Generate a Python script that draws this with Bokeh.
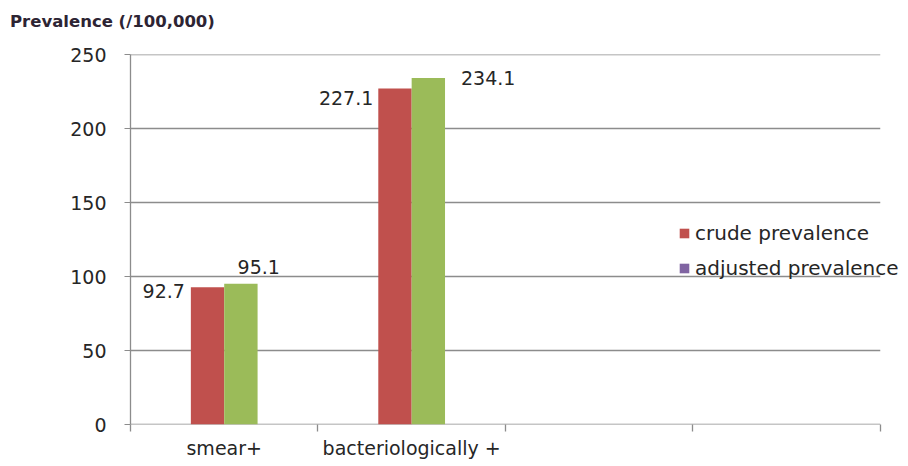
from bokeh.plotting import figure
from bokeh.layouts import column
from bokeh.models import Range1d, FixedTicker, Legend, LegendItem, ColumnDataSource, Div
from bokeh.core.properties import value
from bokeh.embed import file_html
from bokeh.resources import INLINE

# Prevalence per 100,000 by case definition
categories = ["smear+", "bacteriologically +"]
crude = [92.7, 227.1]
adjusted = [95.1, 234.1]
# four slots on the category axis, only the first two are filled
slot_labels = ["smear+", "bacteriologically +", "", ""]
y_ticks = [0, 50, 100, 150, 200, 250]

FONT = "DejaVu Sans"
RED = "#C0504D"
GREEN = "#9BBB59"
PURPLE = "#8064A2"
GRID = "#8c8c8c"
TEXT = "#262626"

bar_w = 0.178
n_slots = len(slot_labels)
# a little room past the last slot so the legend text is not cut off
x_end = n_slots + 0.14

title = Div(text="Prevalence (/100,000)", width=908, height=34, margin=(0, 0, 0, 0),
            styles={"font-family": FONT, "font-size": "16.5px", "font-weight": "bold",
                    "color": "#2d2433", "padding-left": "10px", "line-height": "44px",
                    "white-space": "nowrap"})

p = figure(width=908, height=432, output_backend="svg", toolbar_location=None,
           x_range=Range1d(0, x_end), y_range=Range1d(0, 250),
           min_border_left=130, min_border_right=2, min_border_top=20,
           min_border_bottom=42, margin=(0, 0, 0, 0))
p.outline_line_color = None
p.background_fill_color = "white"

# horizontal gridlines and the category baseline, spanning the four slots only
p.xgrid.visible = False
p.ygrid.visible = False
p.segment(x0=[0] * len(y_ticks), x1=[n_slots] * len(y_ticks), y0=y_ticks, y1=y_ticks,
          line_color=GRID, line_width=1.3)

centers = [i + 0.5 for i in range(len(categories))]
src = ColumnDataSource(dict(
    xc=[c - bar_w / 2 for c in centers],
    xa=[c + bar_w / 2 for c in centers],
    crude=crude, adjusted=adjusted,
))

p.vbar(x="xc", top="crude", width=bar_w, bottom=0, source=src,
       fill_color=RED, line_color=None)
p.vbar(x="xa", top="adjusted", width=bar_w, bottom=0, source=src,
       fill_color=GREEN, line_color=None)

# value labels, placed individually beside each bar
crude_dx = [-6, -5]
crude_dy = [4, 10]
adj_dx = [-20, 16]
adj_dy = [-17, 0]
for i in range(len(categories)):
    p.text(x=[centers[i] - bar_w], y=[crude[i]], text=[f"{crude[i]:.1f}"],
           x_offset=crude_dx[i], y_offset=crude_dy[i], text_align="right",
           text_baseline="middle", text_font=value(FONT), text_font_size="19px",
           text_color=TEXT)
    p.text(x=[centers[i] + bar_w], y=[adjusted[i]], text=[f"{adjusted[i]:.1f}"],
           x_offset=adj_dx[i], y_offset=adj_dy[i], text_align="left",
           text_baseline="middle", text_font=value(FONT), text_font_size="19px",
           text_color=TEXT)

# y axis
ya = p.yaxis[0]
ya.ticker = FixedTicker(ticks=y_ticks)
ya.axis_line_color = GRID
ya.axis_line_width = 1.3
ya.major_tick_line_color = GRID
ya.major_tick_out = 6
ya.major_tick_in = 0
ya.minor_tick_line_color = None
ya.major_label_standoff = 18
ya.major_label_text_font = FONT
ya.major_label_text_font_size = "19px"
ya.major_label_text_color = TEXT

# x axis: labels centred in slots, tick marks on slot boundaries
xa = p.xaxis[0]
xa.ticker = FixedTicker(ticks=[i + 0.5 for i in range(n_slots)],
                        minor_ticks=list(range(n_slots + 1)))
xa.major_label_overrides = {i + 0.5: s for i, s in enumerate(slot_labels)}
xa.axis_line_color = None
xa.major_tick_line_color = None
xa.major_tick_out = 0
xa.major_tick_in = 0
xa.minor_tick_line_color = GRID
xa.minor_tick_line_width = 1.3
xa.minor_tick_out = 7
xa.minor_tick_in = 0
xa.major_label_standoff = 5
xa.major_label_text_font = FONT
xa.major_label_text_font_size = "19px"
xa.major_label_text_color = TEXT

# legend swatches (quads sit outside the visible range)
r1 = p.quad(left=[-10], right=[-9], bottom=[-10], top=[-9], fill_color=RED, line_color=None)
r2 = p.quad(left=[-10], right=[-9], bottom=[-10], top=[-9], fill_color=PURPLE, line_color=None)
legend = Legend(items=[LegendItem(label="crude prevalence", renderers=[r1]),
                       LegendItem(label="adjusted prevalence", renderers=[r2])],
                location=(548, 144), orientation="vertical",
                border_line_color=None, background_fill_alpha=0,
                label_text_font=FONT, label_text_font_size="20px",
                label_text_color=TEXT, glyph_width=12, glyph_height=12,
                label_standoff=5, spacing=11, padding=0, margin=0)
p.add_layout(legend)

layout = column(title, p, margin=(0, 0, 0, 0), spacing=0)
open("out.html", "w").write(file_html(layout, INLINE))
